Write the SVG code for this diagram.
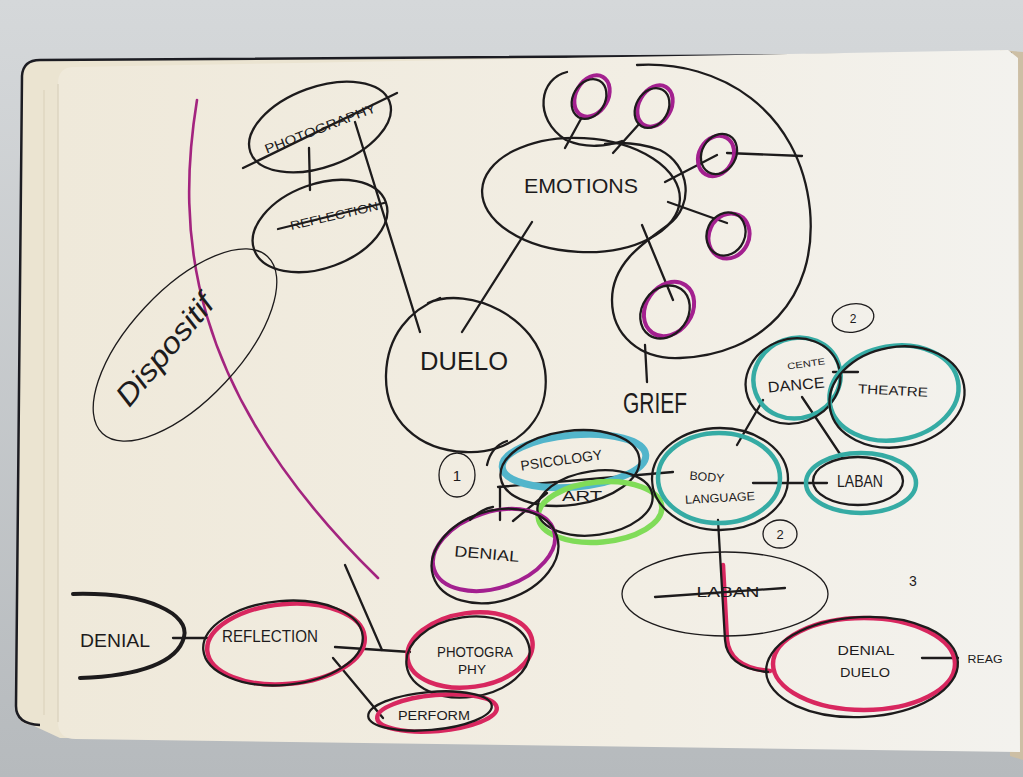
<svg xmlns="http://www.w3.org/2000/svg" width="1023" height="777" viewBox="0 0 1023 777">
  <defs>
    <linearGradient id="bg" x1="0" y1="0" x2="0" y2="1">
      <stop offset="0" stop-color="#d5d8da"/>
      <stop offset="1" stop-color="#b6babd"/>
    </linearGradient>
    <linearGradient id="paper" x1="0" y1="0" x2="1" y2="0">
      <stop offset="0" stop-color="#efe9da"/>
      <stop offset="0.6" stop-color="#f2eee4"/>
      <stop offset="1" stop-color="#f3f2ee"/>
    </linearGradient>
    <style>
      .ink{fill:none;stroke:#1d1b1c;stroke-width:2.3;stroke-linecap:round;stroke-linejoin:round}
      .thin{fill:none;stroke:#1d1b1c;stroke-width:1.3;stroke-linecap:round}
      .bold{fill:none;stroke:#1d1b1c;stroke-width:4;stroke-linecap:round}
      .mag{fill:none;stroke:#d8275f;stroke-width:4.5;stroke-linecap:round}
      .pur{fill:none;stroke:#a3208f;stroke-width:4;stroke-linecap:round}
      .teal{fill:none;stroke:#35aba4;stroke-width:4.5;stroke-linecap:round}
      .cyan{fill:none;stroke:#52b5cb;stroke-width:7;stroke-linecap:round}
      .green{fill:none;stroke:#80dc58;stroke-width:5.5;stroke-linecap:round}
      .arc{fill:none;stroke:#a3247f;stroke-width:2.6;stroke-linecap:round}
      .t{font-family:"Liberation Sans Narrow","Liberation Sans",sans-serif;fill:#1d1b1c;text-anchor:middle}
    </style>
  </defs>

  <!-- backdrop and notebook -->
  <rect width="1023" height="777" fill="url(#bg)"/>
  <path d="M1000,50 L1023,52 L1023,760 L1010,756 Z" fill="#cdbfa5"/>
  <!-- stacked pages and cover edge -->
  <path d="M32,725 Q16,724 16,706 L22,76 Q23,60 40,60 L1010,54 L1016,745 L60,738 Z" fill="#ebe4d1"/>
  <path d="M40,725 Q16,724 16,706 L22,76 Q23,60 40,60 L1012,54" fill="none" stroke="#1c1c22" stroke-width="2.5"/>
  <line x1="44" y1="90" x2="44" y2="715" stroke="#e2dac5" stroke-width="2"/>
  <path d="M74,67 L1008,50 L1018,58 L1020,752 L76,739 Q58,739 58,722 L58,84 Q58,67 74,67 Z" fill="url(#paper)"/>
  <line x1="58" y1="84" x2="58" y2="722" stroke="#ddd5c0" stroke-width="1.5"/>

  <!-- section divider arc -->
  <path class="arc" d="M197,100 C176,230 185,390 378,578"/>

  <!-- connectors -->
  <g id="connectors">
    <path class="ink" d="M309,148 L310,190"/>
    <path class="ink" d="M355,122 L420,332"/>
    <path class="ink" d="M532,222 L462,332"/>
    <path class="ink" d="M582,117 L565,148"/>
    <path class="ink" d="M640,123 L613,153"/>
    <path class="ink" d="M717,155 L665,182"/>
    <path class="ink" d="M727,153 L802,156"/>
    <path class="ink" d="M727,223 L668,202"/>
    <path class="ink" d="M673,300 L642,225"/>
    <path class="ink" d="M645,345 L647,382"/>
    <path class="ink" d="M498,487 L673,472"/>
    <path class="ink" d="M500,487 L500,520"/>
    <path class="ink" d="M513,521 L547,493"/>
    <path class="ink" d="M763,400 L737,445"/>
    <path class="ink" d="M802,397 L842,457"/>
    <path class="ink" d="M753,483 L827,483"/>
    <path class="ink" d="M833,372 L858,372"/>
    <path class="mag" d="M723,565 L727,640 Q730,668 770,671"/>
    <path class="ink" d="M718,520 L725,640 Q727,668 768,672"/>
    <path class="ink" d="M922,658 L958,658"/>
    <path class="ink" d="M173,638 L207,638"/>
    <path class="ink" d="M335,647 L410,652"/>
    <path class="ink" d="M345,565 L382,650"/>
    <path class="ink" d="M333,658 L383,718"/>
  </g>

  <g id="dispositif">
    <ellipse class="thin" cx="185" cy="345" rx="121" ry="55" transform="rotate(-47 185 345)"/>
    <text class="t" x="165" y="360" font-size="30" font-style="italic" textLength="135" lengthAdjust="spacingAndGlyphs" transform="rotate(-50 165 350)">Dispositif</text>
  </g>

  <g id="photography-top">
    <ellipse class="ink" cx="320" cy="127" rx="74" ry="40" transform="rotate(-20 320 127)"/>
    <text class="t" x="320" y="133" font-size="13" textLength="118" lengthAdjust="spacingAndGlyphs" transform="rotate(-21 320 128)">PHOTOGRAPHY</text>
    <path class="ink" d="M243,168 L397,93"/>
  </g>

  <g id="reflection-top">
    <ellipse class="ink" cx="320" cy="226" rx="70" ry="42" transform="rotate(-20 320 226)"/>
    <text class="t" x="334" y="220" font-size="12" textLength="90" lengthAdjust="spacingAndGlyphs" transform="rotate(-13 334 215)">REFLECTION</text>
    <path class="ink" d="M278,229 L384,203"/>
  </g>

  <g id="emotions">
    <ellipse class="ink" cx="581" cy="195" rx="99" ry="57" transform="rotate(3 581 195)"/>
    <text class="t" x="581" y="193" font-size="20" textLength="114" lengthAdjust="spacingAndGlyphs">EMOTIONS</text>
  </g>

  <g id="grief">
    <path class="ink" d="M637,65 C720,60 800,110 810,210 C818,300 760,355 680,358 C640,360 612,335 612,300 C612,265 640,245 668,225 C695,205 690,165 660,150 C640,143 620,142 605,144"/>
    <path class="ink" d="M567,72 C540,78 532,118 566,140 C586,149 608,146 622,141"/>
    <text class="t" x="655" y="413" font-size="29" textLength="64" lengthAdjust="spacingAndGlyphs">GRIEF</text>
  </g>

  <g id="emotion-1">
    <ellipse class="pur" cx="592" cy="96" rx="16" ry="22" transform="rotate(30 592 96)"/>
    <ellipse class="ink" cx="589" cy="99" rx="16" ry="21" transform="rotate(30 589 99)"/>
  </g>
  <g id="emotion-2">
    <ellipse class="pur" cx="655" cy="106" rx="16" ry="22" transform="rotate(30 655 106)"/>
    <ellipse class="ink" cx="652" cy="108" rx="16" ry="21" transform="rotate(30 652 108)"/>
  </g>
  <g id="emotion-3">
    <ellipse class="pur" cx="716" cy="156" rx="17" ry="21" transform="rotate(30 716 156)"/>
    <ellipse class="ink" cx="719" cy="154" rx="17" ry="21" transform="rotate(30 719 154)"/>
  </g>
  <g id="emotion-4">
    <ellipse class="pur" cx="729" cy="236" rx="20" ry="23" transform="rotate(25 729 236)"/>
    <ellipse class="ink" cx="726" cy="234" rx="19" ry="22" transform="rotate(25 726 234)"/>
  </g>
  <g id="emotion-5">
    <ellipse class="pur" cx="669" cy="309" rx="23" ry="29" transform="rotate(35 669 309)"/>
    <ellipse class="ink" cx="665" cy="312" rx="23" ry="28" transform="rotate(35 665 312)"/>
  </g>

  <g id="duelo">
    <path class="ink" d="M428,303 C470,285 538,318 545,370 C552,425 508,455 465,452 C418,450 385,420 386,375 C387,335 410,310 440,298"/>
    <text class="t" x="464" y="370" font-size="25" textLength="88" lengthAdjust="spacingAndGlyphs">DUELO</text>
  </g>

  <g id="group-1">
    <ellipse class="thin" cx="457" cy="475" rx="18" ry="22"/>
    <text class="t" x="457" y="481" font-size="15">1</text>
  </g>

  <g id="psicology">
    <ellipse class="cyan" cx="574" cy="461" rx="72" ry="26" transform="rotate(-5 574 461)"/>
    <ellipse class="ink" cx="570" cy="468" rx="70" ry="37" transform="rotate(-8 570 468)"/>
    <path class="ink" d="M487,465 C490,452 498,444 507,441"/>
    <text class="t" x="561" y="465" font-size="14" textLength="82" lengthAdjust="spacingAndGlyphs" transform="rotate(-8 561 458)">PSICOLOGY</text>
  </g>

  <g id="art">
    <ellipse class="green" cx="600" cy="512" rx="62" ry="30" transform="rotate(-5 600 512)"/>
    <ellipse class="ink" cx="595" cy="503" rx="58" ry="32" transform="rotate(-8 595 503)"/>
    <text class="t" x="582" y="501" font-size="14" textLength="40" lengthAdjust="spacingAndGlyphs">ART</text>
  </g>

  <g id="denial">
    <ellipse class="pur" cx="494" cy="550" rx="63" ry="38" transform="rotate(-18 494 550)"/>
    <ellipse class="ink" cx="495" cy="556" rx="65" ry="45" transform="rotate(-18 495 556)"/>
    <path class="ink" d="M470,520 C478,512 486,508 493,507"/>
    <text class="t" x="487" y="559" font-size="15" textLength="65" lengthAdjust="spacingAndGlyphs" transform="rotate(5 487 552)">DENIAL</text>
  </g>

  <g id="body-language">
    <ellipse class="teal" cx="719" cy="478" rx="61" ry="45"/>
    <ellipse class="ink" cx="720" cy="479" rx="68" ry="51"/>
    <text class="t" x="707" y="481" font-size="12" textLength="35" lengthAdjust="spacingAndGlyphs" transform="rotate(5 707 476)">BODY</text>
    <text class="t" x="720" y="502" font-size="12" textLength="70" lengthAdjust="spacingAndGlyphs" transform="rotate(-3 720 496)">LANGUAGE</text>
  </g>

  <g id="group-2a">
    <ellipse class="thin" cx="853" cy="318" rx="21" ry="14" transform="rotate(-10 853 318)"/>
    <text class="t" x="853" y="323" font-size="12">2</text>
  </g>

  <g id="dance">
    <ellipse class="teal" cx="797" cy="378" rx="44" ry="40" transform="rotate(-20 797 378)" stroke-width="2.5"/>
    <ellipse class="ink" cx="793" cy="381" rx="48" ry="42" transform="rotate(-20 793 381)"/>
    <text class="t" x="806" y="367" font-size="9" textLength="38" lengthAdjust="spacingAndGlyphs" transform="rotate(-8 806 363)">CENTE</text>
    <text class="t" x="796" y="390" font-size="15" textLength="57" lengthAdjust="spacingAndGlyphs" transform="rotate(-5 796 383)">DANCE</text>
  </g>

  <g id="theatre">
    <ellipse class="teal" cx="894" cy="393" rx="65" ry="47" transform="rotate(-10 894 393)" stroke-width="2.8"/>
    <ellipse class="ink" cx="897" cy="397" rx="68" ry="50" transform="rotate(-10 897 397)"/>
    <text class="t" x="893" y="395" font-size="13" textLength="70" lengthAdjust="spacingAndGlyphs" transform="rotate(3 893 390)">THEATRE</text>
  </g>

  <g id="laban">
    <ellipse class="teal" cx="861" cy="483" rx="55" ry="30" stroke-width="2.8"/>
    <ellipse class="ink" cx="858" cy="481" rx="45" ry="24"/>
    <text class="t" x="860" y="487" font-size="16" textLength="46" lengthAdjust="spacingAndGlyphs">LABAN</text>
  </g>

  <g id="group-2b">
    <ellipse class="thin" cx="780" cy="534" rx="17" ry="14"/>
    <text class="t" x="780" y="539" font-size="13">2</text>
  </g>

  <g id="laban-struck">
    <ellipse class="thin" cx="725" cy="594" rx="103" ry="42"/>
    <text class="t" x="728" y="597" font-size="15" textLength="63" lengthAdjust="spacingAndGlyphs">LABAN</text>
    <path class="ink" d="M655,597 L785,588"/>
  </g>

  <g id="group-3">
    <text class="t" x="913" y="586" font-size="14">3</text>
  </g>

  <g id="denial-duelo">
    <ellipse class="mag" cx="864" cy="664" rx="91" ry="46"/>
    <ellipse class="ink" cx="862" cy="667" rx="96" ry="50" transform="rotate(-3 862 667)"/>
    <text class="t" x="866" y="655" font-size="13" textLength="57" lengthAdjust="spacingAndGlyphs">DENIAL</text>
    <text class="t" x="865" y="677" font-size="13" textLength="50" lengthAdjust="spacingAndGlyphs">DUELO</text>
  </g>

  <g id="reag">
    <text class="t" x="985" y="663" font-size="10" textLength="35" lengthAdjust="spacingAndGlyphs">REAG</text>
  </g>

  <g id="denial-left">
    <path class="bold" d="M73,594 C150,592 190,615 184,637 C178,662 140,676 80,678"/>
    <text class="t" x="115" y="647" font-size="19" textLength="70" lengthAdjust="spacingAndGlyphs">DENIAL</text>
  </g>

  <g id="reflection">
    <ellipse class="mag" cx="286" cy="644" rx="79" ry="40" transform="rotate(-5 286 644)"/>
    <ellipse class="ink" cx="283" cy="643" rx="80" ry="42" transform="rotate(-5 283 643)"/>
    <text class="t" x="270" y="642" font-size="16" textLength="96" lengthAdjust="spacingAndGlyphs">REFLECTION</text>
  </g>

  <g id="photography">
    <ellipse class="mag" cx="470" cy="650" rx="63" ry="37" transform="rotate(-8 470 650)"/>
    <ellipse class="ink" cx="468" cy="657" rx="62" ry="40" transform="rotate(-8 468 657)"/>
    <text class="t" x="475" y="657" font-size="14" textLength="76" lengthAdjust="spacingAndGlyphs">PHOTOGRA</text>
    <text class="t" x="472" y="674" font-size="13" textLength="28" lengthAdjust="spacingAndGlyphs">PHY</text>
  </g>

  <g id="perform">
    <ellipse class="mag" cx="437" cy="713" rx="60" ry="18" transform="rotate(-5 437 713)"/>
    <ellipse class="ink" cx="430" cy="711" rx="62" ry="19" transform="rotate(-5 430 711)"/>
    <text class="t" x="434" y="720" font-size="12" textLength="72" lengthAdjust="spacingAndGlyphs">PERFORM</text>
  </g>
</svg>
